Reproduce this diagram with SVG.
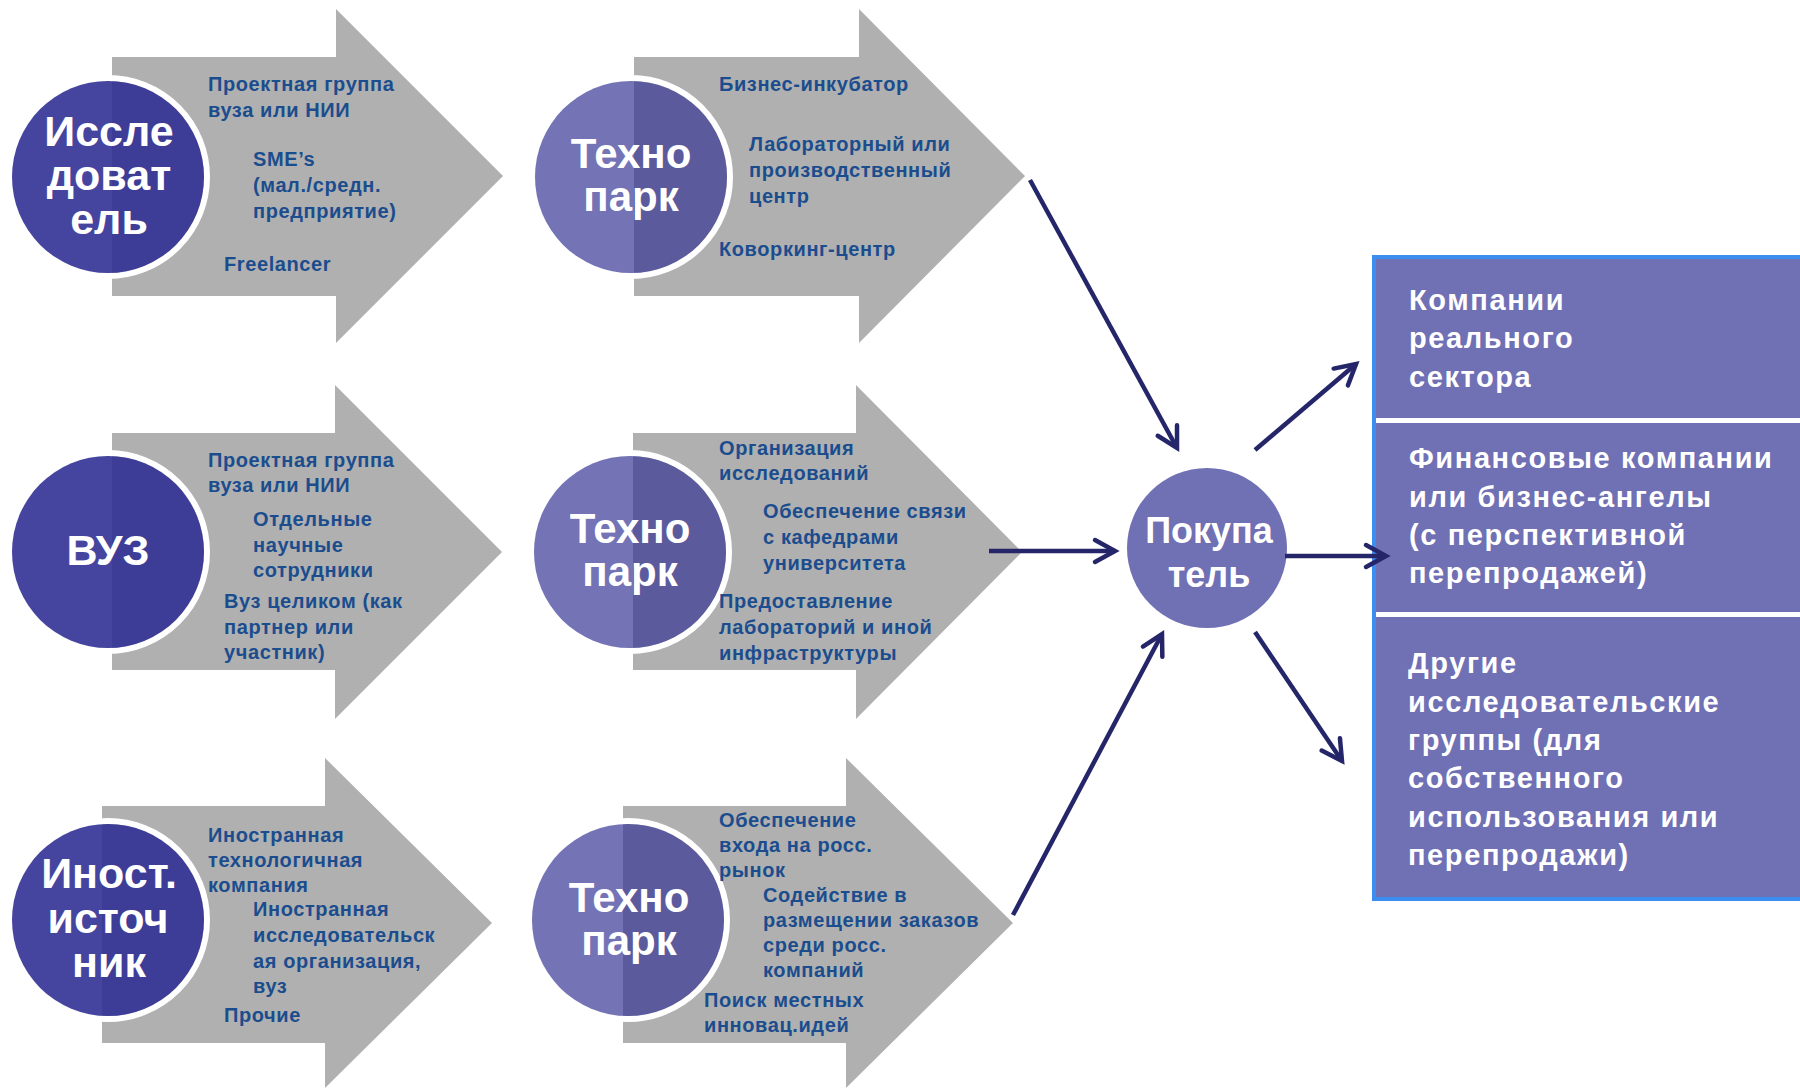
<svg xmlns="http://www.w3.org/2000/svg" width="1800" height="1088" viewBox="0 0 1800 1088">
<defs>
<style>
.arrow{fill:#b0b0b0}
.ring{fill:none;stroke:#ffffff;stroke-width:6}
.dark{fill:#313195;fill-opacity:0.9}
.tech{fill:#303094;fill-opacity:0.68}
.ct{font-family:"Liberation Sans",Arial,sans-serif;font-weight:bold;fill:#ffffff;text-anchor:middle}
.c43{font-size:43px}
.c42{font-size:42px}
.t{font-family:"Liberation Sans",Arial,sans-serif;font-weight:bold;font-size:20px;letter-spacing:0.6px;fill:#1b4d8e}
.pt{font-family:"Liberation Sans",Arial,sans-serif;font-weight:bold;font-size:29px;letter-spacing:1.6px;fill:#ffffff}
.conn{fill:none;stroke:#25256a;stroke-width:4.5;marker-end:url(#ah)}
</style>
<marker id="ah" viewBox="-26 -15 30 30" refX="0" refY="0" markerWidth="30" markerHeight="30" markerUnits="userSpaceOnUse" orient="auto" overflow="visible">
<path d="M-20,-11 L0,0 L-20,11" fill="none" stroke="#25256a" stroke-width="4.5" stroke-linecap="round" stroke-linejoin="miter"/>
</marker>
</defs>
<rect width="1800" height="1088" fill="#ffffff"/>

<g id="researcher">
<path class="arrow" d="M112,57 H336 V9 L503,176 L336,343 V296 H112 Z"/>
<circle class="ring" cx="108" cy="177" r="99"/>
<circle class="dark" cx="108" cy="177" r="96"/>
<text class="ct c43"><tspan x="109" y="146">Иссле</tspan><tspan x="109" y="190">доват</tspan><tspan x="109" y="234">ель</tspan></text>
<text class="t"><tspan x="208" y="91">Проектная группа</tspan><tspan x="208" y="117">вуза или НИИ</tspan><tspan x="253" y="166">SME’s</tspan><tspan x="253" y="192">(мал./средн.</tspan><tspan x="253" y="218">предприятие)</tspan><tspan x="224" y="271">Freelancer</tspan></text>
</g>

<g id="technopark1">
<path class="arrow" d="M634,57 H859 V9 L1025,176 L859,343 V296 H634 Z"/>
<circle class="ring" cx="631" cy="177" r="99"/>
<circle class="tech" cx="631" cy="177" r="96"/>
<text class="ct c42"><tspan x="631" y="168">Техно</tspan><tspan x="631" y="211">парк</tspan></text>
<text class="t"><tspan x="719" y="91">Бизнес-инкубатор</tspan><tspan x="749" y="151">Лабораторный или</tspan><tspan x="749" y="177">производственный</tspan><tspan x="749" y="203">центр</tspan><tspan x="719" y="256">Коворкинг-центр</tspan></text>
</g>

<g id="vuz">
<path class="arrow" d="M112,433 H335 V385 L502,552 L335,719 V670 H112 Z"/>
<circle class="ring" cx="108" cy="552" r="99"/>
<circle class="dark" cx="108" cy="552" r="96"/>
<text class="ct c43" x="108" y="565">ВУЗ</text>
<text class="t"><tspan x="208" y="467">Проектная группа</tspan><tspan x="208" y="492">вуза или НИИ</tspan><tspan x="253" y="526">Отдельные</tspan><tspan x="253" y="552">научные</tspan><tspan x="253" y="577">сотрудники</tspan><tspan x="224" y="608">Вуз целиком (как</tspan><tspan x="224" y="634">партнер или</tspan><tspan x="224" y="659">участник)</tspan></text>
</g>

<g id="technopark2">
<path class="arrow" d="M633,433 H856 V385 L1022,552 L856,719 V670 H633 Z"/>
<circle class="ring" cx="630" cy="552" r="99"/>
<circle class="tech" cx="630" cy="552" r="96"/>
<text class="ct c42"><tspan x="630" y="543">Техно</tspan><tspan x="630" y="586">парк</tspan></text>
<text class="t"><tspan x="719" y="455">Организация</tspan><tspan x="719" y="480">исследований</tspan><tspan x="763" y="518">Обеспечение связи</tspan><tspan x="763" y="544">с кафедрами</tspan><tspan x="763" y="570">университета</tspan><tspan x="719" y="608">Предоставление</tspan><tspan x="719" y="634">лабораторий и иной</tspan><tspan x="719" y="660">инфраструктуры</tspan></text>
</g>

<g id="foreign">
<path class="arrow" d="M102,806 H325 V758 L492,923 L325,1088 V1043 H102 Z"/>
<circle class="ring" cx="108" cy="920" r="99"/>
<circle class="dark" cx="108" cy="920" r="96"/>
<text class="ct c43"><tspan x="109" y="888">Иност.</tspan><tspan x="108" y="933">источ</tspan><tspan x="109" y="977">ник</tspan></text>
<text class="t"><tspan x="208" y="842">Иностранная</tspan><tspan x="208" y="867">технологичная</tspan><tspan x="208" y="892">компания</tspan><tspan x="253" y="916">Иностранная</tspan><tspan x="253" y="942">исследовательск</tspan><tspan x="253" y="968">ая организация,</tspan><tspan x="253" y="993">вуз</tspan><tspan x="224" y="1022">Прочие</tspan></text>
</g>

<g id="technopark3">
<path class="arrow" d="M623,806 H846 V758 L1013,923 L846,1088 V1043 H623 Z"/>
<circle class="ring" cx="628" cy="920" r="99"/>
<circle class="tech" cx="628" cy="920" r="96"/>
<text class="ct c42"><tspan x="629" y="912">Техно</tspan><tspan x="629" y="955">парк</tspan></text>
<text class="t"><tspan x="719" y="827">Обеспечение</tspan><tspan x="719" y="852">входа на росс.</tspan><tspan x="719" y="877">рынок</tspan><tspan x="763" y="902">Содействие в</tspan><tspan x="763" y="927">размещении заказов</tspan><tspan x="763" y="952">среди росс.</tspan><tspan x="763" y="977">компаний</tspan><tspan x="704" y="1007">Поиск местных</tspan><tspan x="704" y="1032">инновац.идей</tspan></text>
</g>

<g id="buyer">
<circle cx="1207" cy="548" r="80" fill="#7070b4"/>
<text class="ct" font-size="36"><tspan x="1209" y="543">Покупа</tspan><tspan x="1209" y="587">тель</tspan></text>
</g>

<g id="buyers-panel">
<rect x="1374" y="257" width="440" height="642" fill="#7070b4" stroke="#3b8df0" stroke-width="4"/>
<rect x="1376" y="418" width="430" height="5" fill="#ffffff"/>
<rect x="1376" y="612" width="430" height="5" fill="#ffffff"/>
<text class="pt"><tspan x="1409" y="310">Компании</tspan><tspan x="1409" y="348">реального</tspan><tspan x="1409" y="387">сектора</tspan></text>
<text class="pt"><tspan x="1409" y="468">Финансовые компании</tspan><tspan x="1409" y="507">или бизнес-ангелы</tspan><tspan x="1409" y="545">(с перспективной</tspan><tspan x="1409" y="583">перепродажей)</tspan></text>
<text class="pt"><tspan x="1408" y="673">Другие</tspan><tspan x="1408" y="712">исследовательские</tspan><tspan x="1408" y="750">группы (для</tspan><tspan x="1408" y="788">собственного</tspan><tspan x="1408" y="827">использования или</tspan><tspan x="1408" y="865">перепродажи)</tspan></text>
</g>

<g id="connectors">
<line class="conn" x1="1030" y1="180" x2="1177" y2="448"/>
<line class="conn" x1="989" y1="551" x2="1115" y2="551"/>
<line class="conn" x1="1013" y1="915" x2="1162" y2="634"/>
<line class="conn" x1="1255" y1="450" x2="1356" y2="364"/>
<line class="conn" x1="1285" y1="556" x2="1386" y2="556"/>
<line class="conn" x1="1255" y1="632" x2="1342" y2="761"/>
</g>
</svg>
